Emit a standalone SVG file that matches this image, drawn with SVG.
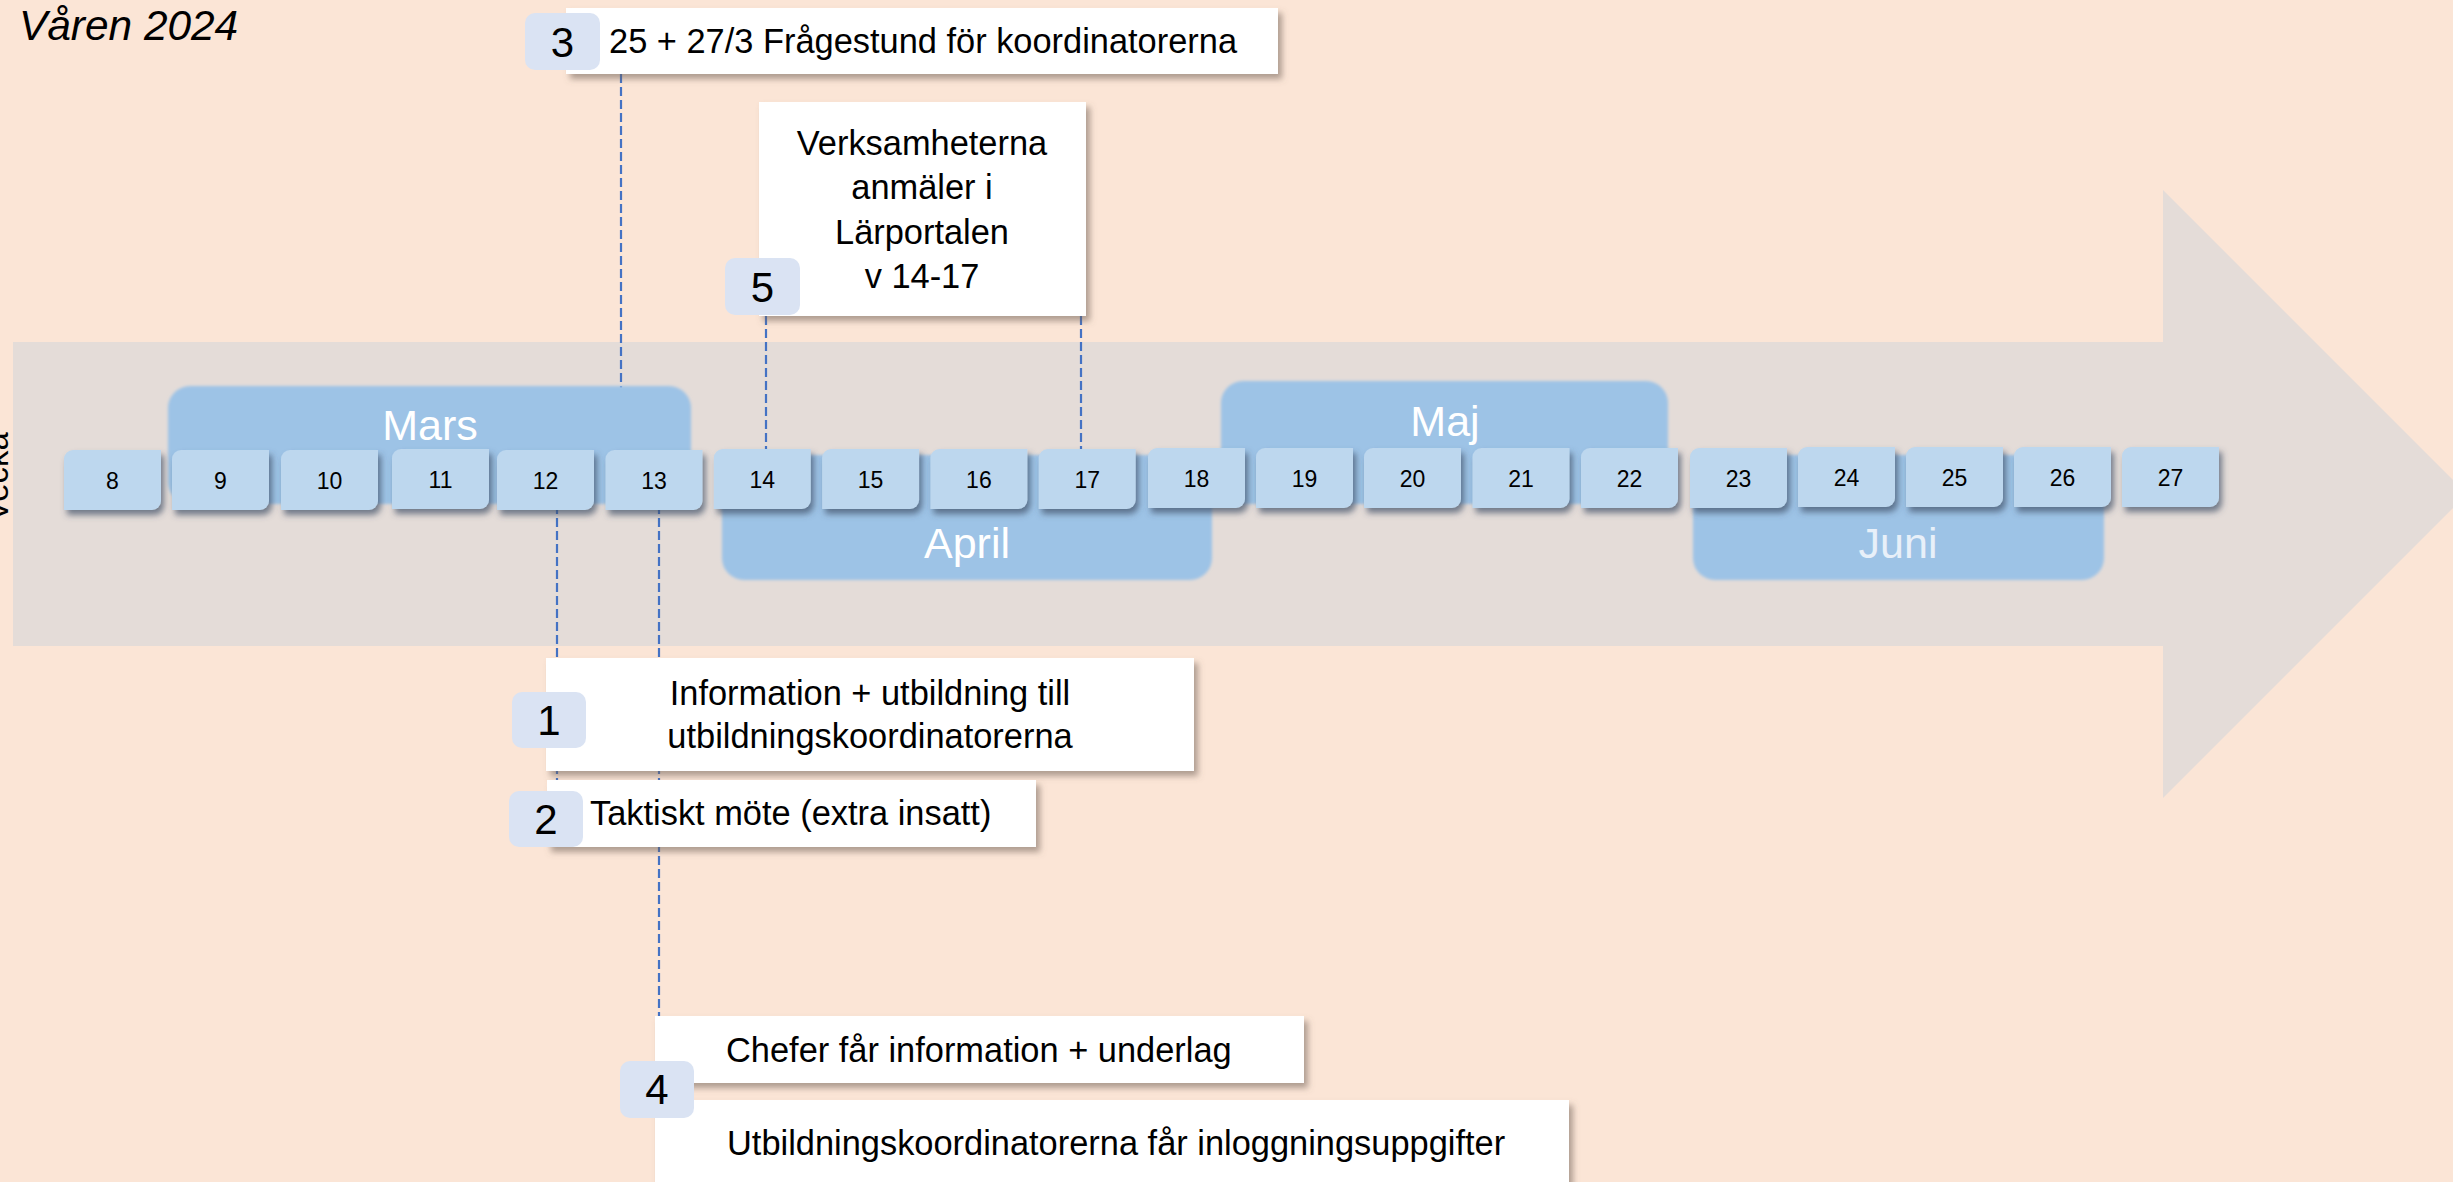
<svg xmlns="http://www.w3.org/2000/svg" xmlns:xlink="http://www.w3.org/1999/xlink" width="2453" height="1182" viewBox="0 0 2453 1182">
<defs>
<style>
.t{font-family:"Liberation Sans",Arial,sans-serif;fill:#000}
.box{fill:#FFFFFF;filter:url(#shw)}
.badge{fill:#DAE3F3}
.bd{font-size:42px;text-anchor:middle}
.bt{font-size:34.4px}
.mon{fill:#9DC3E6;filter:url(#soft)}
.ml{font-family:"Liberation Sans",Arial,sans-serif;font-size:43px;fill:#FFFFFF;text-anchor:middle}
.wk{fill:#BDD7EE;filter:url(#shb)}
.wn{font-size:23px;text-anchor:middle}
.dash{stroke:#4472C4;stroke-width:2.2;stroke-dasharray:9 4;fill:none}
</style>
<filter id="shw" x="-5%" y="-10%" width="115%" height="135%"><feDropShadow dx="4" dy="5" stdDeviation="3" flood-color="#6E5E55" flood-opacity="0.55"/></filter>
<filter id="shb" x="-10%" y="-15%" width="125%" height="140%"><feDropShadow dx="3" dy="5" stdDeviation="3" flood-color="#3F5066" flood-opacity="0.7"/></filter>
<filter id="soft" x="-5%" y="-5%" width="110%" height="110%"><feGaussianBlur stdDeviation="1.6"/></filter>
<path id="wkshape" d="M9,0 H97 V51 A9,9 0 0 1 88,60 H0 V9 A9,9 0 0 1 9,0 Z"/>
</defs>
<rect x="0" y="0" width="2453" height="1182" fill="#FBE5D6"/>
<g id="timeline-arrow">
<polygon points="13,342 2163,342 2163,190 2467,494 2163,798 2163,646 13,646" fill="#E4DCD8"/>
</g>
<g id="title"><text class="t" x="19" y="40" font-size="42.4" font-style="italic">Våren 2024</text></g>
<g id="vecka-label"><text class="t" font-size="33" transform="translate(8,522) rotate(-90)">Vecka</text></g>
<g id="connectors">
<line class="dash" x1="621" y1="74" x2="621" y2="388"/>
<line class="dash" x1="766" y1="316" x2="766" y2="450"/>
<line class="dash" x1="1081" y1="316" x2="1081" y2="450"/>
<line class="dash" x1="557" y1="505" x2="557" y2="795"/>
<line class="dash" x1="659" y1="505" x2="659" y2="1017"/>
</g>
<g id="month-mars"><rect class="mon" x="168" y="386" width="523" height="118" rx="22"/><text class="ml" x="430" y="440">Mars</text></g>
<g id="month-april"><rect class="mon" x="722" y="455" width="490" height="125" rx="22"/><text class="ml" x="967" y="558">April</text></g>
<g id="month-maj"><rect class="mon" x="1221" y="381" width="447" height="123" rx="22"/><text class="ml" x="1445" y="436">Maj</text></g>
<g id="month-juni"><rect class="mon" x="1693" y="455" width="411" height="125" rx="22"/><text class="ml" x="1898" y="558" fill="#E8F0F9" style="fill:#E8F0F9">Juni</text></g>
<g id="week-8" transform="translate(64,450)"><use xlink:href="#wkshape" class="wk"/><text class="t wn" x="48.5" y="39">8</text></g>
<g id="week-9" transform="translate(172,450)"><use xlink:href="#wkshape" class="wk"/><text class="t wn" x="48.5" y="39">9</text></g>
<g id="week-10" transform="translate(281,450)"><use xlink:href="#wkshape" class="wk"/><text class="t wn" x="48.5" y="39">10</text></g>
<g id="week-11" transform="translate(392,449)"><use xlink:href="#wkshape" class="wk"/><text class="t wn" x="48.5" y="39">11</text></g>
<g id="week-12" transform="translate(497,450)"><use xlink:href="#wkshape" class="wk"/><text class="t wn" x="48.5" y="39">12</text></g>
<g id="week-13" transform="translate(605.5,450)"><use xlink:href="#wkshape" class="wk"/><text class="t wn" x="48.5" y="39">13</text></g>
<g id="week-14" transform="translate(713.8,449)"><use xlink:href="#wkshape" class="wk"/><text class="t wn" x="48.5" y="39">14</text></g>
<g id="week-15" transform="translate(822.1,449)"><use xlink:href="#wkshape" class="wk"/><text class="t wn" x="48.5" y="39">15</text></g>
<g id="week-16" transform="translate(930.4,449)"><use xlink:href="#wkshape" class="wk"/><text class="t wn" x="48.5" y="39">16</text></g>
<g id="week-17" transform="translate(1038.7,449)"><use xlink:href="#wkshape" class="wk"/><text class="t wn" x="48.5" y="39">17</text></g>
<g id="week-18" transform="translate(1148,448)"><use xlink:href="#wkshape" class="wk"/><text class="t wn" x="48.5" y="39">18</text></g>
<g id="week-19" transform="translate(1256,448)"><use xlink:href="#wkshape" class="wk"/><text class="t wn" x="48.5" y="39">19</text></g>
<g id="week-20" transform="translate(1364,448)"><use xlink:href="#wkshape" class="wk"/><text class="t wn" x="48.5" y="39">20</text></g>
<g id="week-21" transform="translate(1472.5,448)"><use xlink:href="#wkshape" class="wk"/><text class="t wn" x="48.5" y="39">21</text></g>
<g id="week-22" transform="translate(1581,448)"><use xlink:href="#wkshape" class="wk"/><text class="t wn" x="48.5" y="39">22</text></g>
<g id="week-23" transform="translate(1690,448)"><use xlink:href="#wkshape" class="wk"/><text class="t wn" x="48.5" y="39">23</text></g>
<g id="week-24" transform="translate(1798,447)"><use xlink:href="#wkshape" class="wk"/><text class="t wn" x="48.5" y="39">24</text></g>
<g id="week-25" transform="translate(1906,447)"><use xlink:href="#wkshape" class="wk"/><text class="t wn" x="48.5" y="39">25</text></g>
<g id="week-26" transform="translate(2014,447)"><use xlink:href="#wkshape" class="wk"/><text class="t wn" x="48.5" y="39">26</text></g>
<g id="week-27" transform="translate(2122,447)"><use xlink:href="#wkshape" class="wk"/><text class="t wn" x="48.5" y="39">27</text></g>
<g id="event-3">
<rect class="box" x="566" y="8" width="712" height="66"/>
<rect class="badge" x="525" y="13" width="75" height="57" rx="10"/>
<text class="t bd" x="562.5" y="56.5">3</text>
<text class="t bt" x="609" y="53">25 + 27/3 Frågestund för koordinatorerna</text>
</g>
<g id="event-5">
<rect class="box" x="759" y="102" width="327" height="214"/>
<rect class="badge" x="725" y="258" width="75" height="57" rx="10"/>
<text class="t bd" x="762.5" y="302">5</text>
<text class="t bt" text-anchor="middle" x="922" y="155">Verksamheterna</text>
<text class="t bt" text-anchor="middle" x="922" y="199">anmäler i</text>
<text class="t bt" text-anchor="middle" x="922" y="243.5">Lärportalen</text>
<text class="t bt" text-anchor="middle" x="922" y="288">v 14-17</text>
</g>
<g id="event-1">
<rect class="box" x="546" y="658" width="648" height="113"/>
<rect class="badge" x="512" y="692" width="74" height="56" rx="10"/>
<text class="t bd" x="549" y="735">1</text>
<text class="t bt" text-anchor="middle" x="870" y="705">Information + utbildning till</text>
<text class="t bt" text-anchor="middle" x="870" y="748">utbildningskoordinatorerna</text>
</g>
<g id="event-2">
<rect class="box" x="547" y="780" width="489" height="67"/>
<rect class="badge" x="509" y="791" width="74" height="56" rx="10"/>
<text class="t bd" x="546" y="834">2</text>
<text class="t bt" x="590" y="825">Taktiskt möte (extra insatt)</text>
</g>
<g id="event-4">
<rect class="box" x="655" y="1016" width="649" height="67"/>
<rect class="box" x="655" y="1100" width="914" height="100"/>
<rect class="badge" x="620" y="1061" width="74" height="57" rx="10"/>
<text class="t bd" x="657" y="1104">4</text>
<text class="t bt" x="726" y="1062">Chefer får information + underlag</text>
<text class="t bt" x="727" y="1155">Utbildningskoordinatorerna får inloggningsuppgifter</text>
</g>
</svg>
